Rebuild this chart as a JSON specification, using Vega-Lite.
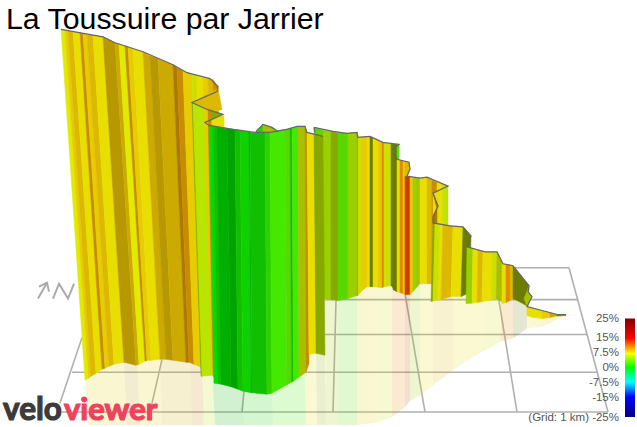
{
  "$schema": "https://vega.github.io/schema/vega-lite/v6.json",
  "width": 637,
  "height": 427,
  "padding": 0,
  "autosize": {"type": "fit", "contains": "padding"},
  "background": "white",
  "config": {"view": {"stroke": null}},
  "datasets": {
    "grid": [
      {"s": 1, "p": [[515, 269], [569, 269]]},
      {"s": 2, "p": [[325, 301], [577, 301]]},
      {"s": 3, "p": [[325, 336], [588, 336]]},
      {"s": 4, "p": [[72, 374], [598, 374]]},
      {"s": 5, "p": [[62, 414], [608, 414]]},
      {"s": 6, "p": [[82, 339], [60, 405]]},
      {"s": 7, "p": [[162, 361], [150, 414]]},
      {"s": 8, "p": [[244, 393], [242, 414]]},
      {"s": 9, "p": [[336, 302], [333, 414]]},
      {"s": 10, "p": [[405, 295], [425, 414]]},
      {"s": 11, "p": [[497, 290], [517, 414]]},
      {"s": 12, "p": [[569, 269], [608, 414]]}
    ],
    "north": [
      {"s": 1, "p": [[38, 300], [47, 284]]},
      {"s": 2, "p": [[39, 288], [47, 284], [49, 293]]},
      {"s": 3, "p": [[53, 300], [59, 285], [68, 300], [74, 285]]}
    ],
    "shadow": [
      {"s": 1, "t": "y2", "p": [[85, 378], [124, 360], [127, 427], [88, 427]]},
      {"s": 2, "t": "y5", "p": [[124, 360], [137, 363], [140, 427], [127, 427]]},
      {"s": 3, "t": "y2", "p": [[137, 363], [160, 357], [162, 427], [140, 427]]},
      {"s": 4, "t": "y4", "p": [[160, 357], [190, 360], [192, 427], [162, 427]]},
      {"s": 5, "t": "o1", "p": [[190, 360], [202, 365], [204, 427], [192, 427]]},
      {"s": 6, "t": "l1", "p": [[202, 365], [213, 372], [215, 427], [204, 427]]},
      {"s": 7, "t": "g6", "p": [[213, 381], [243, 389], [244, 427], [215, 427]]},
      {"s": 8, "t": "g3", "p": [[243, 389], [272, 391], [273, 427], [244, 427]]},
      {"s": 9, "t": "g1", "p": [[272, 391], [305, 370], [306, 427], [273, 427]]},
      {"s": 10, "t": "y1", "p": [[305, 350], [316, 350], [317, 427], [306, 427]]},
      {"s": 11, "t": "l4", "p": [[316, 350], [325, 352], [326, 427], [317, 427]]},
      {"s": 12, "t": "l6", "p": [[325, 296], [338, 298], [338, 427], [326, 427]]},
      {"s": 13, "t": "g2", "p": [[338, 298], [357, 293], [357, 427], [338, 427]]},
      {"s": 14, "t": "y2", "p": [[357, 293], [375, 284], [375, 425], [357, 427]]},
      {"s": 15, "t": "l2", "p": [[375, 284], [392, 283], [392, 419], [375, 425]]},
      {"s": 16, "t": "o3", "p": [[392, 283], [405, 291], [405, 409], [392, 419]]},
      {"s": 17, "t": "r1", "p": [[405, 291], [410, 291], [410, 403], [405, 409]]},
      {"s": 18, "t": "l3", "p": [[410, 291], [420, 281], [420, 397], [410, 403]]},
      {"s": 19, "t": "y1", "p": [[420, 281], [433, 281], [433, 387], [420, 397]]},
      {"s": 20, "t": "y3", "p": [[433, 298], [453, 294], [453, 372], [433, 387]]},
      {"s": 21, "t": "y1", "p": [[453, 294], [466, 292], [466, 363], [453, 372]]},
      {"s": 22, "t": "y1", "p": [[466, 300], [483, 299], [483, 353], [466, 363]]},
      {"s": 23, "t": "l2", "p": [[483, 299], [501, 296], [501, 343], [483, 353]]},
      {"s": 24, "t": "o3", "p": [[501, 300], [513, 296], [513, 340], [501, 343]]},
      {"s": 25, "t": "l5", "p": [[513, 296], [527, 303], [527, 330], [513, 340]]},
      {"s": 26, "t": "y1", "p": [[527, 313], [542, 316], [542, 328], [527, 330]]},
      {"s": 27, "t": "y2", "p": [[542, 316], [566, 316], [566, 317], [542, 328]]}
    ],
    "walls": [
      {"s": 1, "t": "g7", "p": [[256, 132], [263, 125], [263, 136], [256, 136]]},
      {"s": 2, "t": "l6", "p": [[263, 125], [272, 128], [278, 132], [278, 136], [263, 136]]},

      {"s": 10, "t": "g2", "p": [[314, 128], [323, 130.5], [324, 300], [315, 300]]},
      {"s": 11, "t": "l3", "p": [[323, 130.5], [331, 132], [331, 301], [324, 300]]},
      {"s": 12, "t": "l4", "p": [[331, 132], [338, 133], [338, 302], [331, 301]]},
      {"s": 13, "t": "g2", "p": [[338, 133], [348, 134], [348, 300], [338, 302]]},
      {"s": 14, "t": "l3", "p": [[348, 134], [357, 133], [357, 297], [348, 300]]},
      {"s": 15, "t": "o1", "p": [[357, 133], [358, 138], [358, 297], [357, 297]]},
      {"s": 16, "t": "l2", "p": [[358, 138], [362, 137.5], [362, 292], [358, 297]]},
      {"s": 17, "t": "y2", "p": [[362, 137.5], [367, 137], [367, 288], [362, 292]]},
      {"s": 18, "t": "y1", "p": [[367, 137], [370, 137.5], [370, 288], [367, 288]]},
      {"s": 19, "t": "l5", "p": [[370, 137.5], [373, 138.5], [373, 288], [370, 288]]},
      {"s": 20, "t": "y1", "p": [[373, 138.5], [378, 141], [378, 288.5], [373, 288]]},
      {"s": 21, "t": "y2", "p": [[378, 141], [382, 143], [382, 289], [378, 288.5]]},
      {"s": 22, "t": "o3", "p": [[382, 143], [384, 143.5], [384, 288], [382, 289]]},
      {"s": 23, "t": "l2", "p": [[384, 143.5], [391, 144.5], [391, 287], [384, 288]]},
      {"s": 24, "t": "l5", "p": [[391, 144.5], [397, 145], [397, 293], [391, 287]]},
      {"s": 25, "t": "g1", "p": [[397, 145], [399, 145], [399, 293], [397, 293]]},

      {"s": 30, "t": "l5", "p": [[393, 150], [397, 160], [397, 293], [393, 291]]},
      {"s": 31, "t": "y1", "p": [[397, 160], [400, 161], [400, 294], [397, 293]]},
      {"s": 32, "t": "o3", "p": [[400, 161], [403, 162], [403, 295], [400, 294]]},
      {"s": 33, "t": "y2", "p": [[403, 162], [405, 162.5], [405, 296], [403, 295]]},
      {"s": 34, "t": "y3", "p": [[405, 162.5], [409, 163], [410, 170], [407, 177], [405, 177]]},
      {"s": 35, "t": "r1", "p": [[405, 177], [410, 178], [410, 296], [405, 296]]},
      {"s": 36, "t": "y2", "p": [[410, 178], [413, 178.5], [413, 293], [410, 296]]},
      {"s": 37, "t": "l3", "p": [[413, 178.5], [417, 179], [417, 288], [413, 293]]},
      {"s": 38, "t": "l6", "p": [[417, 179], [420, 179], [420, 285], [417, 288]]},
      {"s": 39, "t": "y1", "p": [[420, 179], [427, 178], [427, 285], [420, 285]]},
      {"s": 40, "t": "y3", "p": [[427, 178], [432, 181], [432, 285], [427, 285]]},
      {"s": 41, "t": "o1", "p": [[432, 181], [437, 183], [437, 285], [432, 285]]},
      {"s": 42, "t": "y1", "p": [[437, 183], [442, 185], [442, 285], [437, 285]]},
      {"s": 43, "t": "l2", "p": [[442, 185], [445, 186], [445, 285], [442, 285]]},
      {"s": 44, "t": "l1", "p": [[445, 186], [448, 187], [448, 285], [445, 285]]},
      {"s": 45, "t": "y1", "p": [[433, 194], [442, 190], [442, 285], [433, 285]]},
      {"s": 46, "t": "o2", "p": [[433, 194], [438, 207], [433, 218], [433, 226], [437, 226], [437, 210]]},

      {"s": 50, "t": "l4", "p": [[433, 224], [435, 224.5], [433, 302.5], [431, 303]]},
      {"s": 51, "t": "l2", "p": [[435, 224.5], [440, 225], [438, 301.5], [433, 302.5]]},
      {"s": 52, "t": "y1", "p": [[440, 225], [443, 225.5], [441, 301], [438, 301.5]]},
      {"s": 53, "t": "y3", "p": [[443, 225.5], [453, 227], [451, 298], [441, 301]]},
      {"s": 54, "t": "y1", "p": [[453, 227], [463, 228], [461, 298], [451, 298]]},
      {"s": 55, "t": "l5", "p": [[463, 228], [471, 237], [470, 294], [461, 298]]},

      {"s": 60, "t": "l3", "p": [[467, 248], [473, 249.7], [472, 304.6], [466, 305]]},
      {"s": 61, "t": "y1", "p": [[473, 249.7], [478, 251], [477, 304], [472, 304.6]]},
      {"s": 62, "t": "y3", "p": [[478, 251], [483, 252.5], [482, 303], [477, 304]]},
      {"s": 63, "t": "y1", "p": [[483, 252.5], [492, 253], [491, 301.5], [482, 303]]},
      {"s": 64, "t": "l2", "p": [[492, 253], [497, 253], [496, 300], [491, 301.5]]},
      {"s": 65, "t": "l6", "p": [[497, 253], [503, 265], [502, 303], [496, 300]]},

      {"s": 70, "t": "y1", "p": [[502, 265], [506, 265.5], [506, 304], [502, 305]]},
      {"s": 71, "t": "o3", "p": [[506, 265.5], [510, 266], [510, 302], [506, 304]]},
      {"s": 72, "t": "y3", "p": [[510, 266], [513, 267], [513, 300], [510, 302]]},
      {"s": 73, "t": "l5", "p": [[513, 267], [521, 277], [521, 304], [513, 300]]},
      {"s": 74, "t": "l5", "p": [[521, 277], [529, 287], [528, 308], [521, 304]]},

      {"s": 80, "t": "l6", "p": [[529, 287], [528, 293], [532, 298], [527, 308], [524, 300]]},
      {"s": 81, "t": "y1", "p": [[527, 308], [533, 309.5], [533, 319], [527, 317]]},
      {"s": 82, "t": "y1", "p": [[533, 309.5], [542, 312], [542, 320], [533, 319]]},
      {"s": 83, "t": "y2", "p": [[542, 312], [550, 314], [550, 319], [542, 320]]},
      {"s": 84, "t": "y4", "p": [[550, 314], [557, 316], [557, 317.5], [550, 319]]},
      {"s": 85, "t": "g6", "p": [[557, 316], [566, 316], [566, 317], [557, 317.5]]},

      {"s": 90, "t": "y0", "p": [[61, 29.5], [65, 30], [88.5, 380], [85, 382]]},
      {"s": 91, "t": "y2", "p": [[65, 30], [68, 31], [91, 378], [88.5, 380]]},
      {"s": 92, "t": "y3", "p": [[68, 31], [73, 32], [96, 375], [91, 378]]},
      {"s": 93, "t": "y1", "p": [[73, 32], [80, 33], [102, 371], [96, 375]]},
      {"s": 94, "t": "o1", "p": [[80, 33], [83, 34], [105, 370], [102, 371]]},
      {"s": 95, "t": "y2", "p": [[83, 34], [87, 34.5], [109, 368], [105, 370]]},
      {"s": 96, "t": "y3", "p": [[87, 34.5], [93, 35.5], [114, 366], [109, 368]]},
      {"s": 97, "t": "y1", "p": [[93, 35.5], [103, 37], [124, 364], [114, 366]]},
      {"s": 98, "t": "y5", "p": [[103, 37], [115, 43], [136, 367], [124, 364]]},
      {"s": 99, "t": "y4", "p": [[115, 43], [119, 44], [139, 366], [136, 367]]},
      {"s": 100, "t": "y0", "p": [[119, 44], [125, 46], [145, 363], [139, 366]]},
      {"s": 101, "t": "o1", "p": [[125, 46], [128, 47], [147, 362], [145, 363]]},
      {"s": 102, "t": "y2", "p": [[128, 47], [133, 49], [151, 362], [147, 362]]},
      {"s": 103, "t": "y1", "p": [[133, 49], [143, 52], [160, 361], [151, 362]]},
      {"s": 104, "t": "y4", "p": [[143, 52], [150, 56], [166, 361], [160, 361]]},
      {"s": 105, "t": "y5", "p": [[150, 56], [158, 59], [173, 362], [166, 361]]},
      {"s": 106, "t": "y4", "p": [[158, 59], [173, 65], [186, 364], [173, 362]]},
      {"s": 107, "t": "o2", "p": [[173, 65], [177, 68], [189, 364], [186, 364]]},
      {"s": 108, "t": "o1", "p": [[177, 68], [183, 71], [194, 366], [189, 364]]},
      {"s": 109, "t": "y2", "p": [[183, 71], [192, 74.5], [201, 369], [194, 366]]},
      {"s": 110, "t": "l2", "p": [[192, 74.5], [197, 76], [205, 370], [201, 369]]},
      {"s": 111, "t": "y1", "p": [[197, 76], [203, 78], [210, 372], [205, 370]]},
      {"s": 112, "t": "y2", "p": [[203, 78], [208, 79], [214, 374], [210, 372]]},
      {"s": 113, "t": "y3", "p": [[208, 79], [213, 80], [218, 376], [214, 374]]},
      {"s": 114, "t": "o1", "p": [[213, 80], [218, 87], [222, 378], [218, 376]]},

      {"s": 120, "t": "y3", "p": [[218, 89], [192, 103], [213, 113], [222, 110]]},
      {"s": 121, "t": "y1", "p": [[205, 123], [215, 118], [224, 116], [224, 132], [210, 132]]},
      {"s": 122, "t": "l4", "p": [[207, 109], [223, 115], [205, 123]]},

      {"s": 130, "t": "l4", "p": [[192, 103], [193, 103.5], [202, 378], [201, 378]]},
      {"s": 131, "t": "l1", "p": [[193, 103.5], [204, 108.5], [212, 377], [202, 378]]},
      {"s": 132, "t": "y2", "p": [[204, 108.5], [208, 110], [213, 377], [212, 377]]},
      {"s": 133, "t": "o1", "p": [[208, 110], [211, 112], [216, 385], [213, 377]]},

      {"s": 140, "t": "g4", "p": [[209, 126], [213, 127], [218, 385.5], [214, 385]]},
      {"s": 141, "t": "g5", "p": [[213, 127], [217, 127.5], [221, 386], [218, 385.5]]},
      {"s": 142, "t": "g6", "p": [[217, 127.5], [227, 129], [231, 388.5], [221, 386]]},
      {"s": 143, "t": "g8", "p": [[227, 129], [235, 130], [238, 391], [231, 388.5]]},
      {"s": 144, "t": "g5", "p": [[235, 130], [240, 131], [243, 393], [238, 391]]},
      {"s": 145, "t": "g3", "p": [[240, 131], [249, 132.5], [251, 394.5], [243, 393]]},
      {"s": 146, "t": "g6", "p": [[249, 132.5], [250, 133], [252, 394.6], [251, 394.5]]},
      {"s": 147, "t": "g5", "p": [[250, 133], [265, 133], [267, 396], [252, 394.6]]},
      {"s": 148, "t": "g7", "p": [[265, 133], [270, 133], [272, 395], [267, 396]]},
      {"s": 149, "t": "g1", "p": [[270, 133], [285, 130], [287, 386.5], [272, 395]]},
      {"s": 150, "t": "g2", "p": [[285, 130], [290, 129], [291.5, 384], [287, 386.5]]},
      {"s": 151, "t": "g5", "p": [[290, 129], [292, 128.5], [293.5, 383], [291.5, 384]]},
      {"s": 152, "t": "g1", "p": [[292, 128.5], [298, 127], [299, 379], [293.5, 383]]},
      {"s": 153, "t": "l6", "p": [[298, 127], [305, 127], [306, 374], [299, 379]]},
      {"s": 154, "t": "o1", "p": [[305, 127], [307, 133], [309, 356], [309, 365], [306, 374]]},
      {"s": 155, "t": "y1", "p": [[307, 133], [314, 135], [316, 355], [309, 356]]},
      {"s": 156, "t": "l4", "p": [[314, 135], [323, 137], [325, 357], [316, 355]]}
    ],
    "ridge": [
      {"s": 1, "p": [[256, 132], [263, 125], [272, 128], [278, 132]]},
      {"s": 2, "p": [[61, 29.5], [103, 37], [115, 43], [143, 52], [173, 65], [187, 73], [210, 79], [218, 87], [217, 92], [192, 103], [207, 110], [223, 115], [205, 123], [209, 126], [233, 130], [255, 133], [270, 133], [287, 130], [297, 127], [305, 127], [307, 133], [323, 137]]},
      {"s": 3, "p": [[314, 128], [315, 133]]},
      {"s": 4, "p": [[314, 128], [333, 132], [347, 134], [357, 133], [358, 138], [370, 137], [383, 143], [399, 145], [393, 150], [397, 160], [409, 163], [410, 170], [407, 177], [420, 179], [427, 178], [448, 187], [433, 194], [438, 207], [433, 218], [433, 224], [450, 227], [463, 228], [471, 237], [467, 248], [485, 253], [497, 253], [503, 265], [513, 267], [529, 287], [528, 293], [532, 298], [527, 308], [542, 312], [557, 316], [566, 316]]}
    ]
  },
  "layer": [
    {
      "data": {"name": "grid"},
      "transform": [{"flatten": ["p"]}, {"window": [{"op": "row_number", "as": "i"}]}],
      "mark": {"type": "line", "color": "#b0b0b0", "strokeWidth": 1.6},
      "encoding": {
        "x": {"field": "p[0]", "type": "quantitative", "scale": {"domain": [0, 637], "nice": false, "zero": false}, "axis": null},
        "y": {"field": "p[1]", "type": "quantitative", "scale": {"domain": [427, 0], "nice": false, "zero": false}, "axis": null},
        "detail": {"field": "s"},
        "order": {"field": "i", "type": "quantitative"}
      }
    },
    {
      "data": {"name": "north"},
      "transform": [{"flatten": ["p"]}, {"window": [{"op": "row_number", "as": "i"}]}],
      "mark": {"type": "line", "color": "#aaaaaa", "strokeWidth": 2},
      "encoding": {
        "x": {"field": "p[0]", "type": "quantitative"},
        "y": {"field": "p[1]", "type": "quantitative"},
        "detail": {"field": "s"},
        "order": {"field": "i", "type": "quantitative"}
      }
    },
    {
      "data": {"name": "shadow"},
      "transform": [{"flatten": ["p"]}, {"window": [{"op": "row_number", "as": "i"}]}],
      "mark": {"type": "line", "interpolate": "linear-closed", "fillOpacity": 0.18, "strokeWidth": 0},
      "encoding": {
        "x": {"field": "p[0]", "type": "quantitative"},
        "y": {"field": "p[1]", "type": "quantitative"},
        "detail": {"field": "s"},
        "fill": {
          "field": "t",
          "type": "nominal",
          "legend": null,
          "scale": {
            "domain": ["y0", "y1", "y2", "y3", "y4", "y5", "o1", "o2", "o3", "r1", "l1", "l2", "l3", "l4", "l5", "l6", "g1", "g2", "g3", "g4", "g5", "g6", "g7", "g8"],
            "range": ["#e2ea00", "#e8de00", "#e6cc00", "#dcb800", "#ccaa00", "#b89800", "#c88c00", "#ac7800", "#e08a00", "#d03c00", "#b8e600", "#cce000", "#98d000", "#88a800", "#6c7c00", "#a8c000", "#44e800", "#58d800", "#10d000", "#00dc00", "#10c000", "#00b000", "#30d000", "#00a400"]
          }
        },
        "order": {"field": "i", "type": "quantitative"}
      }
    },
    {
      "data": {"name": "walls"},
      "transform": [{"flatten": ["p"]}, {"window": [{"op": "row_number", "as": "i"}]}],
      "mark": {"type": "line", "interpolate": "linear-closed", "strokeWidth": 0.5},
      "encoding": {
        "x": {"field": "p[0]", "type": "quantitative"},
        "y": {"field": "p[1]", "type": "quantitative"},
        "detail": {"field": "s"},
        "fill": {"field": "t", "type": "nominal", "legend": null},
        "stroke": {
          "field": "t",
          "type": "nominal",
          "legend": null,
          "scale": {
            "domain": ["y0", "y1", "y2", "y3", "y4", "y5", "o1", "o2", "o3", "r1", "l1", "l2", "l3", "l4", "l5", "l6", "g1", "g2", "g3", "g4", "g5", "g6", "g7", "g8"],
            "range": ["#e2ea00", "#e8de00", "#e6cc00", "#dcb800", "#ccaa00", "#b89800", "#c88c00", "#ac7800", "#e08a00", "#d03c00", "#b8e600", "#cce000", "#98d000", "#88a800", "#6c7c00", "#a8c000", "#44e800", "#58d800", "#10d000", "#00dc00", "#10c000", "#00b000", "#30d000", "#00a400"]
          }
        },
        "order": {"field": "i", "type": "quantitative"}
      }
    },
    {
      "data": {"name": "ridge"},
      "transform": [{"flatten": ["p"]}, {"window": [{"op": "row_number", "as": "i"}]}],
      "mark": {"type": "line", "color": "#666666", "strokeWidth": 1.2},
      "encoding": {
        "x": {"field": "p[0]", "type": "quantitative"},
        "y": {"field": "p[1]", "type": "quantitative"},
        "detail": {"field": "s"},
        "order": {"field": "i", "type": "quantitative"}
      }
    },
    {
      "data": {"values": [{"a": 625, "b": 635, "top": 320, "bottom": 419}]},
      "mark": {
        "type": "rect",
        "color": {
          "gradient": "linear",
          "x1": 0, "y1": 0, "x2": 0, "y2": 1,
          "stops": [
            {"offset": 0, "color": "#800000"},
            {"offset": 0.2, "color": "#ff0000"},
            {"offset": 0.354, "color": "#ffff00"},
            {"offset": 0.495, "color": "#00ff00"},
            {"offset": 0.646, "color": "#00ffff"},
            {"offset": 0.798, "color": "#0000ff"},
            {"offset": 1, "color": "#000080"}
          ]
        }
      },
      "encoding": {
        "x": {"field": "a", "type": "quantitative"},
        "x2": {"field": "b"},
        "y": {"field": "top", "type": "quantitative"},
        "y2": {"field": "bottom"}
      }
    },
    {
      "data": {
        "values": [
          {"x": 619, "y": 320, "label": "25%"},
          {"x": 619, "y": 340, "label": "15%"},
          {"x": 619, "y": 355, "label": "7.5%"},
          {"x": 619, "y": 370, "label": "0%"},
          {"x": 619, "y": 385, "label": "-7.5%"},
          {"x": 619, "y": 400, "label": "-15%"},
          {"x": 619, "y": 420, "label": "-25%"},
          {"x": 589, "y": 420, "label": "(Grid: 1 km)"}
        ]
      },
      "mark": {"type": "text", "align": "right", "baseline": "middle", "font": "Liberation Sans", "fontSize": 11.5, "color": "#555555"},
      "encoding": {
        "x": {"field": "x", "type": "quantitative"},
        "y": {"field": "y", "type": "quantitative"},
        "text": {"field": "label"}
      }
    },
    {
      "data": {"values": [{"x": 6, "y": 29, "label": "La Toussuire par Jarrier"}]},
      "mark": {"type": "text", "align": "left", "baseline": "alphabetic", "font": "Liberation Sans", "fontSize": 30.3, "color": "#000000"},
      "encoding": {
        "x": {"field": "x", "type": "quantitative"},
        "y": {"field": "y", "type": "quantitative"},
        "text": {"field": "label"}
      }
    },
    {
      "data": {"values": [{"x": 3, "y": 422, "label": "velo"}]},
      "mark": {"type": "text", "align": "left", "baseline": "alphabetic", "font": "Lato", "fontWeight": "bold", "fontSize": 31.5, "color": "#3d3a3a", "stroke": "#3d3a3a", "strokeWidth": 1.2},
      "encoding": {
        "x": {"field": "x", "type": "quantitative"},
        "y": {"field": "y", "type": "quantitative"},
        "text": {"field": "label"}
      }
    },
    {
      "data": {"values": [{"x": 64, "y": 422, "label": "viewer"}]},
      "mark": {"type": "text", "align": "left", "baseline": "alphabetic", "font": "Lato", "fontWeight": "bold", "fontSize": 31, "color": "#f0425c", "stroke": "#f0425c", "strokeWidth": 1.2},
      "encoding": {
        "x": {"field": "x", "type": "quantitative"},
        "y": {"field": "y", "type": "quantitative"},
        "text": {"field": "label"}
      }
    }
  ]
}
